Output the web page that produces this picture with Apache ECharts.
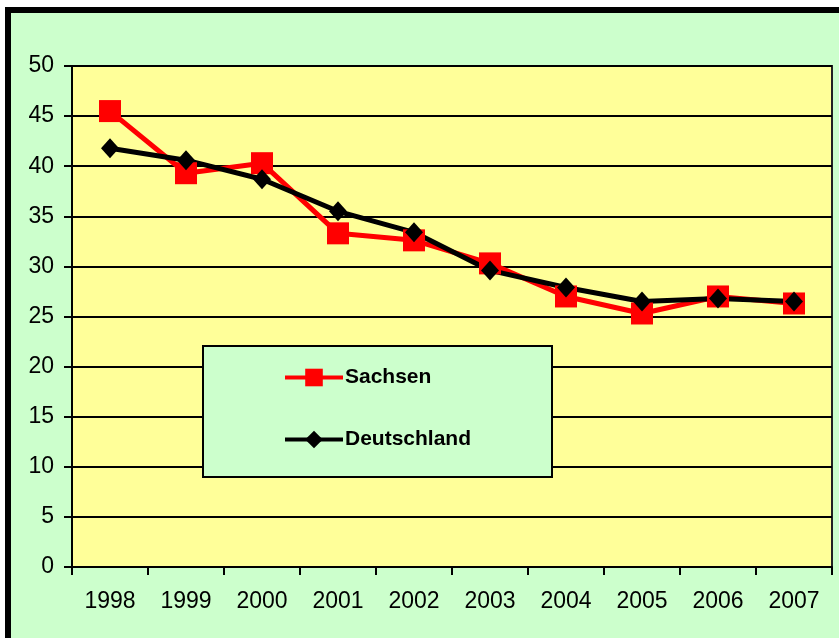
<!DOCTYPE html>
<html>
<head>
    <meta charset="UTF-8">
    <title>Sachsen / Deutschland</title>
    <script src="https://cdn.jsdelivr.net/npm/echarts@6/dist/echarts.min.js"></script>
</head>
<body style="margin: 0; background: #fff;">
<div id="container" style="width: 839px; height: 638px;"></div>
<script type="text/javascript">
    var years = ['1998', '1999', '2000', '2001', '2002', '2003', '2004', '2005', '2006', '2007'];
    var sachsen = [45.5, 39.3, 40.3, 33.3, 32.6, 30.3, 27.0, 25.3, 27.0, 26.3];
    var deutschland = [41.8, 40.6, 38.7, 35.5, 33.4, 29.6, 27.9, 26.5, 26.8, 26.5];

    var myChart = echarts.init(document.getElementById('container'));

    var labelFont = {
        fontFamily: 'Liberation Sans, Arial',
        fontSize: 23,
        color: '#000'
    };

    var option = {
        animation: false,
        graphic: [
            {
                // outer frame
                type: 'rect',
                z: -10,
                shape: {x: 8, y: 10, width: 900, height: 700},
                style: {fill: '#CCFFCC', stroke: '#000', lineWidth: 6}
            },
            {
                // legend box
                type: 'rect',
                z: 50,
                shape: {x: 203, y: 346, width: 349, height: 131},
                style: {fill: '#CCFFCC', stroke: '#000', lineWidth: 2}
            }
        ],
        grid: {
            left: 72,
            top: 66,
            right: 7,
            bottom: 71,
            show: true,
            backgroundColor: '#FFFF99',
            borderColor: '#222',
            borderWidth: 2
        },
        legend: {
            orient: 'vertical',
            left: 283,
            top: 367,
            padding: 0,
            z: 60,
            itemGap: 41,
            itemWidth: 58,
            itemHeight: 22,
            lineStyle: {width: 4},
            textStyle: {
                fontFamily: 'Liberation Sans, Arial',
                fontWeight: 'bold',
                fontSize: 21,
                lineHeight: 21,
                color: '#000',
                padding: [0, 0, 0, -3]
            },
            data: ['Sachsen', 'Deutschland']
        },
        xAxis: {
            type: 'category',
            data: years,
            boundaryGap: true,
            axisLine: {lineStyle: {color: '#000', width: 2}},
            axisTick: {show: true, length: 8, lineStyle: {color: '#000', width: 2}},
            axisLabel: Object.assign({margin: 23}, labelFont)
        },
        yAxis: {
            type: 'value',
            min: 0,
            max: 50,
            interval: 5,
            axisLine: {show: true, lineStyle: {color: '#000', width: 2}},
            axisTick: {show: true, length: 8, lineStyle: {color: '#000', width: 2}},
            splitLine: {lineStyle: {color: '#000', width: 2}},
            axisLabel: Object.assign({margin: 18}, labelFont)
        },
        series: [
            {
                name: 'Sachsen',
                type: 'line',
                data: sachsen,
                symbol: 'rect',
                symbolSize: 22,
                lineStyle: {color: '#FF0000', width: 5},
                itemStyle: {color: '#FF0000'}
            },
            {
                name: 'Deutschland',
                type: 'line',
                data: deutschland,
                symbol: 'diamond',
                symbolSize: [18, 20],
                lineStyle: {color: '#000', width: 5},
                itemStyle: {color: '#000'}
            }
        ]
    };
    myChart.setOption(option, true);
</script>
</body>
</html>
